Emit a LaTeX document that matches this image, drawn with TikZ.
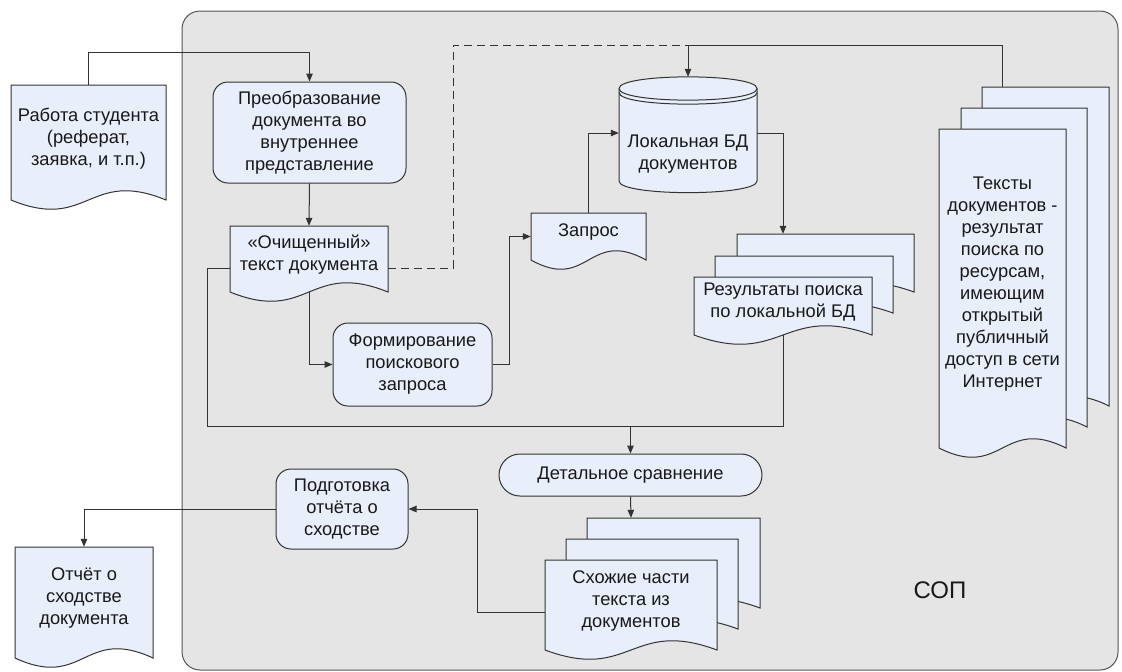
\documentclass[tikz,border=0pt]{standalone}
\usepackage{fontspec}
\setmainfont{Liberation Sans}
\usetikzlibrary{arrows.meta,calc}

\definecolor{framefill}{HTML}{E5E5E5}
\definecolor{framedraw}{HTML}{555555}
\definecolor{boxfill}{HTML}{E8EEFA}
\definecolor{linecol}{HTML}{333333}

\tikzset{
  base/.style={font=\fontsize{18.3pt}{22pt}\selectfont, text=black!90, align=center, inner sep=0pt},
  line/.style={draw=linecol, line width=1pt},
  arr/.style={line, -{Triangle[length=8pt,width=6.5pt]}},
  frame/.style={draw=framedraw, fill=framefill, line width=1pt, rounded corners=18pt, inner sep=0pt},
  procbox/.style={base, draw=linecol, fill=boxfill, line width=1pt, rounded corners=15pt},
  docbox/.style={draw=linecol, fill=boxfill, line width=1pt},
  doctext/.style={base, yshift=4pt},
}

% document sheet: name, left, top, right, bottom, text
\newcommand{\docnode}[6]{%
  \filldraw[docbox] (#2,#3) -- (#4,#3) -- (#4,#5)
    .. controls ({(#2+#4)/2},#5-32) and ({(#2+#4)/2},#5+32) .. (#2,#5) -- cycle;
  \node[inner sep=0pt, minimum width=#4-#2, minimum height=#5-#3, label={[doctext]center:#6}]
    (#1) at ({(#2+#4)/2},{(#3+#5)/2}) {};
}

\begin{document}
\begin{tikzpicture}[x=1pt,y=-1pt]
  \useasboundingbox (0,0) rectangle (1122,672);
  \node[frame, minimum width=936, minimum height=659] (Frame) at (650,340.5) {};
  \node[base, font=\fontsize{24pt}{28pt}\selectfont] (Sop) at (940,590) {СОП};

  \docnode{Student}{11}{85}{166}{200}{Работа студента\\(реферат,\\заявка, и т.п.)}
  \node[procbox, minimum width=193, minimum height=101] (Convert) at (309.5,132.5) {Преобразование\\документа во\\внутреннее\\представление};
  \docnode{Clean}{230}{226}{388}{292}{«Очищенный»\\текст документа}
  \node[procbox, minimum width=159, minimum height=83] (Form) at (412.5,364.5) {Формирование\\поискового\\запроса};
  \docnode{Query}{531}{213}{646}{260}{Запрос}

  % database drum
  \filldraw[docbox] (619,88.5) -- (619,181) .. controls (619,196.5) and (757,196.5) .. (757,181)
    -- (757,88.5) .. controls (757,73) and (619,73) .. cycle;
  \draw[line] (619,88.5) .. controls (619,104) and (757,104) .. (757,88.5);
  \draw[line] (619,92.5) .. controls (619,108) and (757,108) .. (757,92.5);
  \node[inner sep=0pt, minimum width=138, minimum height=116,
        label={[base, yshift=-19pt]center:Локальная БД\\документов}] (LocalDB) at (688,135) {};

  \docnode{ResultsC}{737}{234}{914}{292}{}
  \docnode{ResultsB}{715}{256}{893}{313}{}
  \docnode{Results}{694}{277}{872}{335}{Результаты поиска\\по локальной БД}

  \docnode{WebC}{982}{87}{1109}{406}{}
  \docnode{WebB}{961}{108}{1087}{427}{}
  \docnode{Web}{939}{129}{1066}{448}{Тексты\\документов -\\результат\\поиска по\\ресурсам,\\имеющим\\открытый\\публичный\\доступ в сети\\Интернет}

  \node[procbox, rounded corners=21pt, minimum width=263, minimum height=42] (Compare) at (630.5,475) {Детальное сравнение};
  \docnode{SimilarC}{587}{518}{760}{608}{}
  \docnode{SimilarB}{566}{539}{738}{629}{}
  \docnode{Similar}{545}{560}{717}{650}{Схожие части\\текста из\\документов}
  \node[procbox, minimum width=132, minimum height=80] (Prepare) at (342,509) {Подготовка\\отчёта о\\сходстве};
  \docnode{Report}{15}{547}{153}{658}{Отчёт о\\сходстве\\документа}

  \draw[arr] (Student.north) -- ++(0,-32) -| (Convert.north);
  \draw[arr] (Convert.south) -- (Clean.north);
  \draw[arr] (Clean.south) |- (Form.west);
  \draw[arr] (Form.east) -- ++(17,0) |- (Query.west);
  \draw[arr] (Query.north) |- ([yshift=2pt]LocalDB.west);
  \draw[arr] ([yshift=2pt]LocalDB.east) -| (Results |- ResultsC.north);
  \coordinate (Join) at (Compare.north |- 0,426);
  \draw[line] (Results.south) |- (Join);
  \draw[line] ([yshift=-9pt]Clean.west) -- ++(-22,0) |- (Join);
  \draw[arr] (Join) -- (Compare.north);
  \draw[arr] (Compare.south) -- (Similar |- SimilarC.north);
  \draw[arr] ([yshift=-7pt]Similar.west) -- ++(-67,0) |- (Prepare.east);
  \draw[arr] (Prepare.west) -| (Report.north);
  \coordinate (DBin) at (LocalDB.north |- 0,45);
  \draw[line, dash pattern=on 8pt off 5pt] ([yshift=-9pt]Clean.east) -- ++(65,0) |- (DBin);
  \draw[arr] (Web |- WebC.north) |- (DBin) -- (LocalDB.north);
\end{tikzpicture}
\end{document}
